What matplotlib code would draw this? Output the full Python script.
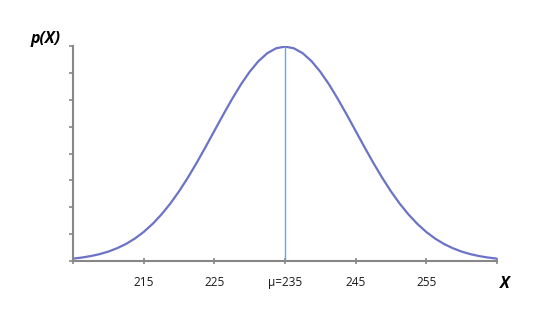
import matplotlib
matplotlib.use("Agg")
import matplotlib.pyplot as plt

# values (x, p(x))
x_vals = [205, 206.25, 207.5, 208.75, 210, 211.25, 212.5, 213.75, 215, 216.25, 217.5, 218.75,
          220, 221.25, 222.5, 223.75, 225, 226.25, 227.5, 228.75, 230, 231.25, 232.5, 233.75,
          235, 236.25, 237.5, 238.75, 240, 241.25, 242.5, 243.75, 245, 246.25, 247.5, 248.75,
          250, 251.25, 252.5, 253.75, 255, 256.25, 257.5, 258.75, 260, 261.25, 262.5, 263.75, 265]
p_vals = [0.00044, 0.00064, 0.00091, 0.00127, 0.00175, 0.00238, 0.00317, 0.00417, 0.00540,
          0.00688, 0.00863, 0.01065, 0.01295, 0.01550, 0.01827, 0.02119, 0.02420, 0.02721,
          0.03011, 0.03282, 0.03521, 0.03719, 0.03867, 0.03958, 0.03989, 0.03958, 0.03867,
          0.03719, 0.03521, 0.03282, 0.03011, 0.02721, 0.02420, 0.02119, 0.01827, 0.01550,
          0.01295, 0.01065, 0.00863, 0.00688, 0.00540, 0.00417, 0.00317, 0.00238, 0.00175,
          0.00127, 0.00091, 0.00064, 0.00044]
mu = 235
x_ticks = [205, 215, 225, 235, 245, 255, 265]
x_labels = ["", "215", "225", "\u03bc=235", "245", "255", ""]

plt.rcParams['font.family'] = ['Open Sans', 'DejaVu Sans']

fig = plt.figure(figsize=(5.6, 3.12), dpi=100)
ax = fig.add_axes([0.1304, 0.1635, 0.757, 0.689])

ax.plot(x_vals, p_vals, color='#6b73c6', linewidth=1.6)
ax.vlines(mu, 0, max(p_vals), color='#5aa9f2', linewidth=1.0)

ax.set_xlim(205, 265)
ax.set_ylim(0, 0.04)

for side in ['top', 'right']:
    ax.spines[side].set_visible(False)
for side in ['left', 'bottom']:
    ax.spines[side].set_color('#878787')
    ax.spines[side].set_linewidth(1.5)

ax.set_xticks(x_ticks)
ax.set_xticklabels(x_labels, fontsize=8.5, color='#1a1a1a')
ax.set_yticks([i * 0.005 for i in range(9)])
ax.set_yticklabels([])
ax.tick_params(axis='x', direction='inout', length=5, width=1.2, color='#878787', pad=8)
ax.tick_params(axis='y', direction='out', length=3, width=1.2, color='#878787')

fig.text(46 / 560, 1 - 39 / 312, "p(X)", fontsize=11.5, fontweight='bold', fontstyle='italic',
         ha='center', va='center')
fig.text(505 / 560, 1 - 284 / 312, "X", fontsize=11.5, fontweight='bold', fontstyle='italic',
         ha='center', va='center')

fig.savefig("out.png", dpi=100)
